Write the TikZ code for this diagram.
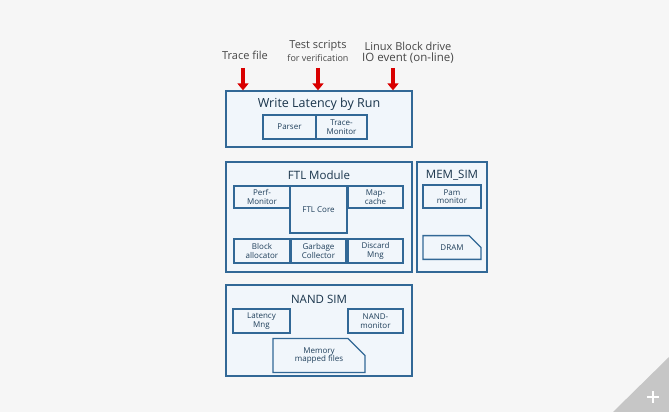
\documentclass[tikz,border=0pt]{standalone}
\usepackage{fontspec}
\setmainfont{Open Sans}
\usetikzlibrary{arrows.meta,shapes.misc}
\definecolor{boxblue}{RGB}{50,104,150}
\definecolor{boxfill}{RGB}{241,246,251}
\definecolor{bgray}{RGB}{246,246,246}
\definecolor{txtgray}{RGB}{70,70,70}
\tikzstyle{outer}=[draw=boxblue,fill=boxfill,line width=1.3pt,inner sep=0pt]
\tikzstyle{inner}=[draw=boxblue,fill=boxfill,line width=1.2pt,inner sep=0pt,align=center,font=\fontsize{8}{8.5}\selectfont,text=boxblue!60!black]
\tikzstyle{cut}=[inner,line width=1.3pt,chamfered rectangle,chamfered rectangle corners=north east,chamfered rectangle xsep=11pt,chamfered rectangle ysep=9pt]
\tikzstyle{title}=[font=\fontsize{11.5}{13}\selectfont,text=boxblue!50!black]
\tikzstyle{lbl}=[font=\fontsize{11}{12}\selectfont,text=txtgray,inner sep=0pt]
\tikzstyle{sub}=[font=\fontsize{9}{10}\selectfont,text=txtgray,inner sep=0pt]
\tikzstyle{redarrow}=[draw=red!85!black,line width=3.5pt,-{Triangle[width=11pt,length=7pt]}]
\def\unit{1pt}

\begin{document}
\begin{tikzpicture}[x=\unit,y=-\unit]
			\fill[bgray] (0,0) rectangle (669,412);
			\useasboundingbox (0,0) rectangle (669,412);
			\fill[gray!45] (613,412) -- (669,357) -- (669,412) -- cycle;
			\draw[white,line width=1.6pt] (647,397) -- (659,397) (653,391) -- (653,403);
			\node[outer,minimum width=186pt,minimum height=56pt] (wl) at (319,119) {};
			\node[title,font=\fontsize{12.5}{14}\selectfont] (wlt) at (319,104) {Write Latency by Run};
			\node[inner,minimum width=53pt,minimum height=24pt] (parser) at (289.5,127) {Parser};
			\node[inner,minimum width=51pt,minimum height=24pt] (tmon) at (341.5,127) {Trace-\\Monitor};
			\node[lbl] (trace) at (245,55) {Trace file};
			\node[lbl] (test) at (318,46) {Test scripts};
			\node[sub] (verif) at (318,58) {for verification};
			\node[lbl] (linux) at (408,46) {Linux Block drive};
			\node[lbl,font=\fontsize{11.5}{12}\selectfont] (ioev) at (408,58) {IO event (on-line)};
			\foreach \x in {243,318,393} {
				\coordinate (s\x) at (\x,68);
				\draw[redarrow] (s\x) -- (s\x |- wl.north);
			}
			\node[outer,minimum width=186pt,minimum height=110pt] (ftl) at (319,217) {};
			\node[title] (ftlt) at (319,175) {FTL Module};
			\node[inner,minimum width=56pt,minimum height=22pt] (perf) at (262,197) {Perf-\\Monitor};
			\node[inner,minimum width=57pt,minimum height=47pt] (core) at (318.5,209.5) {FTL Core};
			\node[inner,minimum width=55pt,minimum height=22pt] (mapc) at (375.5,197) {Map-\\cache};
			\node[inner,minimum width=56pt,minimum height=24pt] (block) at (262,251) {Block\\allocator};
			\node[inner,minimum width=55pt,minimum height=24pt] (gc) at (318.5,251) {Garbage\\Collector};
			\node[inner,minimum width=55pt,minimum height=24pt] (disc) at (375.5,251) {Discard\\Mng};
			\node[outer,minimum width=70pt,minimum height=110pt] (mem) at (452,217) {};
			\node[title] (memt) at (452,175) {MEM\_SIM};
			\node[inner,minimum width=58pt,minimum height=23pt] (pam) at (452,196.5) {Pam\\monitor};
			\node[cut,minimum width=58pt,minimum height=17pt] (dram) at (452,247.5) {DRAM};
			\node[outer,minimum width=186pt,minimum height=91pt] (nand) at (319,330.5) {};
			\node[title] (nandt) at (319,299) {NAND SIM};
			\node[inner,minimum width=57pt,minimum height=24pt] (lat) at (261.5,321) {Latency\\Mng};
			\node[inner,minimum width=55pt,minimum height=24pt] (nmon) at (375.5,321) {NAND-\\monitor};
			\node[cut,minimum width=92pt,minimum height=29pt] (mmf) at (319,355.5) {Memory\\mapped files};
		\end{tikzpicture}
\end{document}
